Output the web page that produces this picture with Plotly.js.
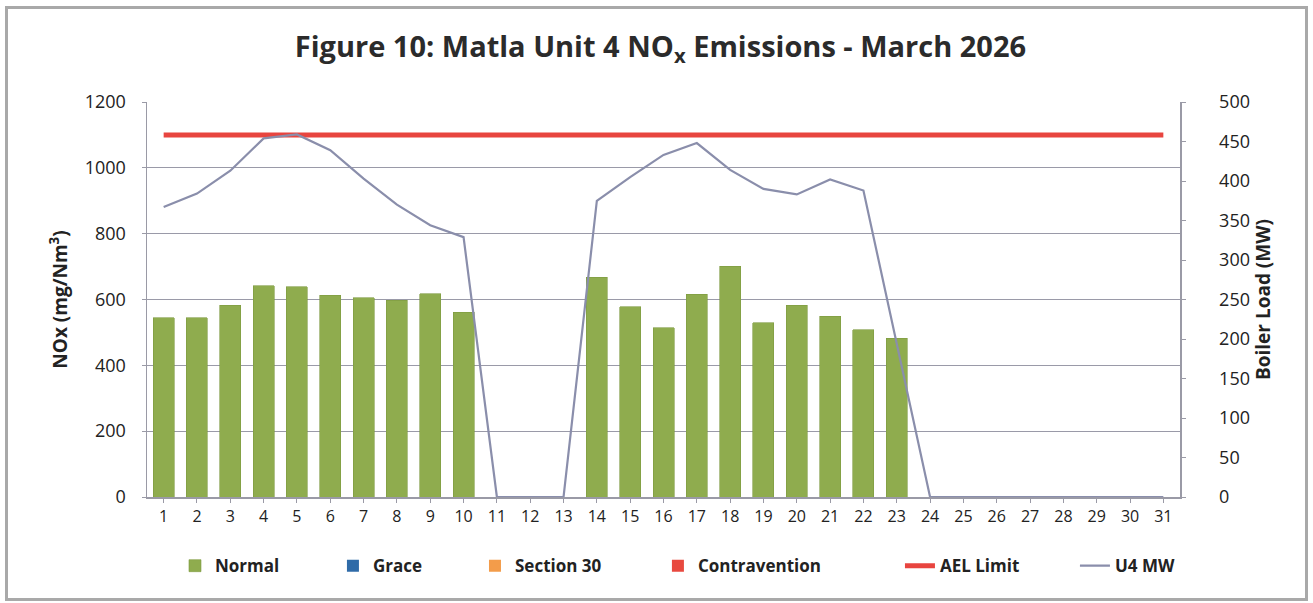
<!DOCTYPE html>
<html>
<head>
<meta charset="utf-8">
<script src="https://cdn.plot.ly/plotly-3.0.1.min.js"></script>
<style>
  html, body { margin: 0; padding: 0; background: #fff; }
  #wrap { position: relative; width: 1313px; height: 603px; }
  #chart { width: 1313px; height: 603px; }
  #frame { position: absolute; left: 5px; top: 6px; width: 1303px; height: 595px;
           border: 3px solid #a9a9a9; box-sizing: border-box; pointer-events: none; }
</style>
</head>
<body>
<div id="wrap">
  <div id="chart"></div>
  <div id="frame"></div>
</div>
<script>
const days = [1,2,3,4,5,6,7,8,9,10,11,12,13,14,15,16,17,18,19,20,21,22,23,24,25,26,27,28,29,30,31];
const normal = [545,545,583,642,639,613,606,597,617,561,null,null,null,667,578,514,616,701,530,583,549,508,482,null,null,null,null,null,null,null,null];
const grace = [null,null,null,null,null,null,null,null,null,null,null,null,null,null,null,null,null,null,null,null,null,null,null,null,null,null,null,null,null,null,null];
const section30 = [null,null,null,null,null,null,null,null,null,null,null,null,null,null,null,null,null,null,null,null,null,null,null,null,null,null,null,null,null,null,null];
const contravention = [null,null,null,null,null,null,null,null,null,null,null,null,null,null,null,null,null,null,null,null,null,null,null,null,null,null,null,null,null,null,null];
const aelLimit = [1100,1100,1100,1100,1100,1100,1100,1100,1100,1100,1100,1100,1100,1100,1100,1100,1100,1100,1100,1100,1100,1100,1100,1100,1100,1100,1100,1100,1100,1100,1100];
const u4MW = [367,384,413,454,459,439,403,370,344,329,0,0,0,375,405,433,448,414,390,383,402,388,195,0,0,0,0,0,0,0,0];

const FONT = '"Open Sans", "Noto Sans", sans-serif';

const traces = [
  {type:'bar', name:'Normal', x:days, y:normal, legend:'legend', marker:{color:'#8fac4e', line:{color:'#7d9a40', width:0.6}}},
  {type:'bar', name:'Grace', x:days, y:grace, legend:'legend2', marker:{color:'#2f6ba8'}},
  {type:'bar', name:'Section 30', x:days, y:section30, legend:'legend3', marker:{color:'#f39c4a'}},
  {type:'bar', name:'Contravention', x:days, y:contravention, legend:'legend4', marker:{color:'#e8493f'}},
  {type:'scatter', mode:'lines', name:'AEL Limit', x:days, y:aelLimit, legend:'legend5', line:{color:'#e8453f', width:5}},
  {type:'scatter', mode:'lines', name:'U4 MW', x:days, y:u4MW, yaxis:'y2', legend:'legend6', line:{color:'#8a8eab', width:2.2}}
];

function leg(x) {
  return {orientation:'h', x:x, xanchor:'left', y:-0.175, yanchor:'middle',
          font:{family:FONT, size:17, color:'#222', weight:'bold'},
          bgcolor:'rgba(0,0,0,0)', borderwidth:0};
}

const layout = {
  width: 1313, height: 603,
  margin: {l:147, r:133, t:102, b:106},
  paper_bgcolor:'#fff', plot_bgcolor:'#fff',
  barmode:'stack', bargap:0.37,
  font:{family:FONT, color:'#222', size:16},
  title:{text:'Figure 10: Matla Unit 4 NO<sub>x</sub> Emissions - March 2026',
         x:0.503, xanchor:'center', y:0.922, yanchor:'middle', yref:'container',
         font:{family:FONT, size:29, color:'#2b2b2b', weight:'bold'}},
  xaxis:{range:[0.5,31.5], tickmode:'linear', dtick:1, tick0:1,
         showline:true, linecolor:'#9a9aa6', linewidth:1.5,
         ticks:'outside', ticklen:4, tickcolor:'#9a9aa6',
         showgrid:false, zeroline:false,
         tickfont:{family:FONT, size:16, color:'#222'}},
  yaxis:{range:[0,1200], dtick:200, tickmode:'linear',
         showgrid:true, gridcolor:'#9a9aa8', gridwidth:1,
         showline:true, linecolor:'#9a9aa6', linewidth:1.5,
         ticks:'outside', ticklen:4, tickcolor:'#9a9aa6',
         zeroline:false, ticklabelstandoff:12,
         tickfont:{family:FONT, size:18, color:'#222'},
         title:{text:'NOx (mg/Nm<sup>3</sup>)', standoff:12,
                font:{family:FONT, size:19, color:'#222', weight:'bold'}}},
  yaxis2:{range:[0,500], dtick:50, tickmode:'linear', overlaying:'y', side:'right',
          showgrid:false, zeroline:false,
          showline:true, linecolor:'#9a9aa6', linewidth:1.5,
          ticks:'outside', ticklen:4, tickcolor:'#9a9aa6',
          ticklabelstandoff:30,
          tickfont:{family:FONT, size:18, color:'#222'},
          title:{text:'Boiler Load (MW)', standoff:5,
                 font:{family:FONT, size:19, color:'#222', weight:'bold'}}},
  showlegend:true,
  legend: leg(0.0271),
  legend2: leg(0.1800),
  legend3: leg(0.3175),
  legend4: leg(0.4946),
  legend5: leg(0.7289),
  legend6: leg(0.8983)
};

Plotly.newPlot('chart', traces, layout, {displayModeBar:false, staticPlot:true});
</script>
</body>
</html>
